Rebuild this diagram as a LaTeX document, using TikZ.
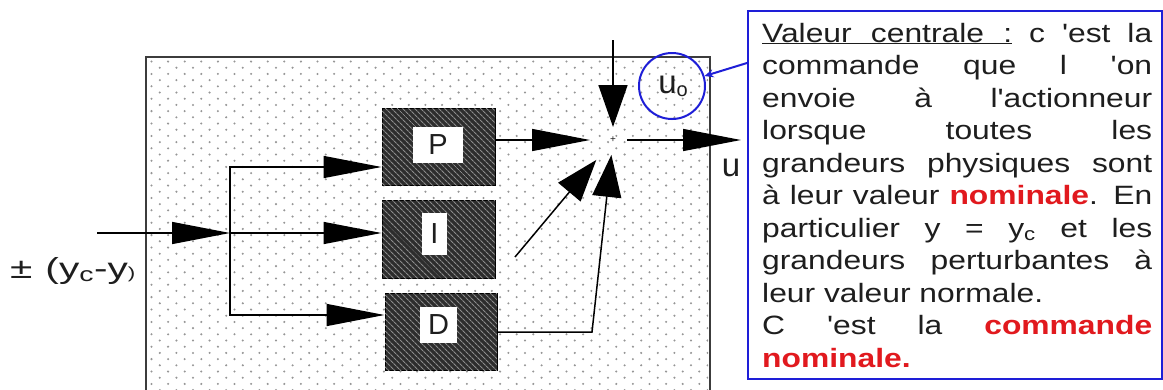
\documentclass[tikz,border=0pt]{standalone}
\usepackage{fontspec}
\setmainfont{Liberation Sans}
\newfontfamily\widesans[FakeStretch=1.2]{Liberation Sans}
\newfontfamily\widerx[FakeStretch=1.4]{Liberation Sans}
\usetikzlibrary{arrows.meta,patterns.meta}
\definecolor{txt}{RGB}{30,30,30}
\definecolor{redc}{RGB}{225,25,30}
\definecolor{bluec}{RGB}{30,30,215}
\definecolor{blockc}{RGB}{45,45,45}
\definecolor{hatchc}{RGB}{140,140,140}
\definecolor{dotc}{RGB}{150,150,150}
\definecolor{edgec}{RGB}{60,60,60}
\begin{document}
\begin{tikzpicture}[x=1pt,y=-1pt,
  bigarr/.style={-{Triangle[length=58pt,width=22pt]}},
  sumarr/.style={-{Triangle[length=42pt,width=29pt]}},
  conn/.style={line width=1.5pt, draw=black},
  block/.style={draw=black, line width=1pt, fill=blockc,
    postaction={pattern={Lines[angle=-45,distance=4pt,line width=1.2pt]}, pattern color=hatchc},
    inner sep=0pt},
  lbl/.style={fill=white, inner sep=0pt, text=txt, font=\fontsize{29}{29}\selectfont},
  dotstyle/.style={fill=dotc},
  tline/.style={anchor=base west, inner sep=0pt, text=txt, font=\widesans\fontsize{26.5}{26.5}\selectfont}]
\clip (0,0) rectangle (1163,389);
\fill[white] (0,0) rectangle (1163,389);

% big dotted box
\fill[white] (146,57) rectangle (710,400);
\begin{scope}
\clip (148,59) rectangle (708,400);
\foreach \r in {0,...,54} {
  \pgfmathsetmacro\yy{61.5+6.2*\r}
  \pgfmathsetmacro\xo{mod(\r,2)*8.3}
  \foreach \c in {0,...,34} {
    \fill[dotstyle] ({151.5+\xo+16.6*\c},\yy) circle (1.15pt);
  }
}
\end{scope}
\draw[line width=1.6pt, draw=edgec] (146,57) rectangle (710,400);

% blocks
\node[block, minimum width=113pt, minimum height=77pt] (P) at (438.5,146.5) {};
\node[block, minimum width=113pt, minimum height=78pt] (I) at (438.5,239) {};
\node[block, minimum width=112pt, minimum height=77pt] (D) at (441,331.5) {};
\node[lbl, minimum width=50pt, minimum height=36pt] (Pl) at (438,145) {P};
\node[lbl, minimum width=25pt, minimum height=42pt] (Il) at (434.5,234) {I};
\node[lbl, minimum width=37pt, minimum height=36pt] (Dl) at (438.5,325) {D};

% input
\coordinate (in) at (97,233);
\coordinate (j) at (230,233);
\draw[conn,bigarr] (in) -- (j);
\draw[conn,bigarr] (j) |- ([yshift=-20.5pt]P.west);
\draw[conn,bigarr] (j) -- (j -| I.west);
\draw[conn,bigarr] (j) |- ([yshift=16.5pt]D.west);
\node[anchor=base west, inner sep=0pt, text=txt, font=\widerx\fontsize{29}{29}\selectfont] (err) at (10,278)
  {±\hspace{13pt}(y\textsubscript{c}-y{\fontsize{16}{16}\selectfont)}};

% summing point
\coordinate (s) at (613,140);
\node[inner sep=0pt, text=txt, font=\fontsize{10}{10}\selectfont] (plus) at (s) {+};
\coordinate (top) at (613,40);
\draw[conn,sumarr,shorten >=13pt] (top) -- (s);
\draw[conn,bigarr,shorten >=23pt] (P.east |- s) -- (s);
\coordinate (itail) at (515,257);
\draw[conn,sumarr,shorten >=26pt] (itail) -- (s);
\coordinate (dk) at (592,332);
\draw[conn,sumarr,shorten >=15pt] (D.east |- dk) -- (dk) -- (s);
\coordinate (uout) at (741,140);
\draw[conn,bigarr,shorten <=14pt] (s) -- (uout);
\node[inner sep=0pt, text=txt, font=\fontsize{33}{33}\selectfont] (ulab) at (731,168) {u};

% u0 circle
\node[draw=bluec, circle, line width=2pt, minimum size=66pt, inner sep=0pt] (c0) at (672,86) {};
\node[inner sep=0pt, text=txt, font=\fontsize{33}{33}\selectfont] (u0) at (673,86)
  {u\raisebox{-3pt}{\fontsize{20}{20}\selectfont o}};

% callout
\node[draw=bluec, line width=2pt, fill=white, minimum width=414pt, minimum height=368pt,
  anchor=north west, inner sep=0pt] (call) at (747,10) {};
\coordinate (cp) at (747,63);
\draw[bluec, line width=2pt, -{Stealth[length=9pt,width=8pt]}] (cp) -- (c0);

\node[tline] (l1) at (762,42) {\makebox[390pt][s]{\underline{\makebox[250pt][s]{Valeur centrale :}} c 'est la}};
\node[tline] (l2) at (762,74.5) {\makebox[390pt][s]{commande que l 'on}};
\node[tline] (l3) at (762,107) {\makebox[390pt][s]{envoie à l'actionneur}};
\node[tline] (l4) at (762,139.5) {\makebox[390pt][s]{lorsque toutes les}};
\node[tline] (l5) at (762,172) {\makebox[390pt][s]{grandeurs physiques sont}};
\node[tline] (l6) at (762,204.5) {\makebox[390pt][s]{à leur valeur \textcolor{redc}{\bfseries nominale}. En}};
\node[tline] (l7) at (762,237) {\makebox[390pt][s]{particulier y = y\textsubscript{c} et les}};
\node[tline] (l8) at (762,269.5) {\makebox[390pt][s]{grandeurs perturbantes à}};
\node[tline] (l9) at (762,302) {leur valeur normale.};
\node[tline] (l10) at (762,334.5) {\makebox[390pt][s]{C 'est la \textcolor{redc}{\bfseries commande}}};
\node[tline] (l11) at (762,367) {\textcolor{redc}{\bfseries nominale.}};
\end{tikzpicture}
\end{document}
